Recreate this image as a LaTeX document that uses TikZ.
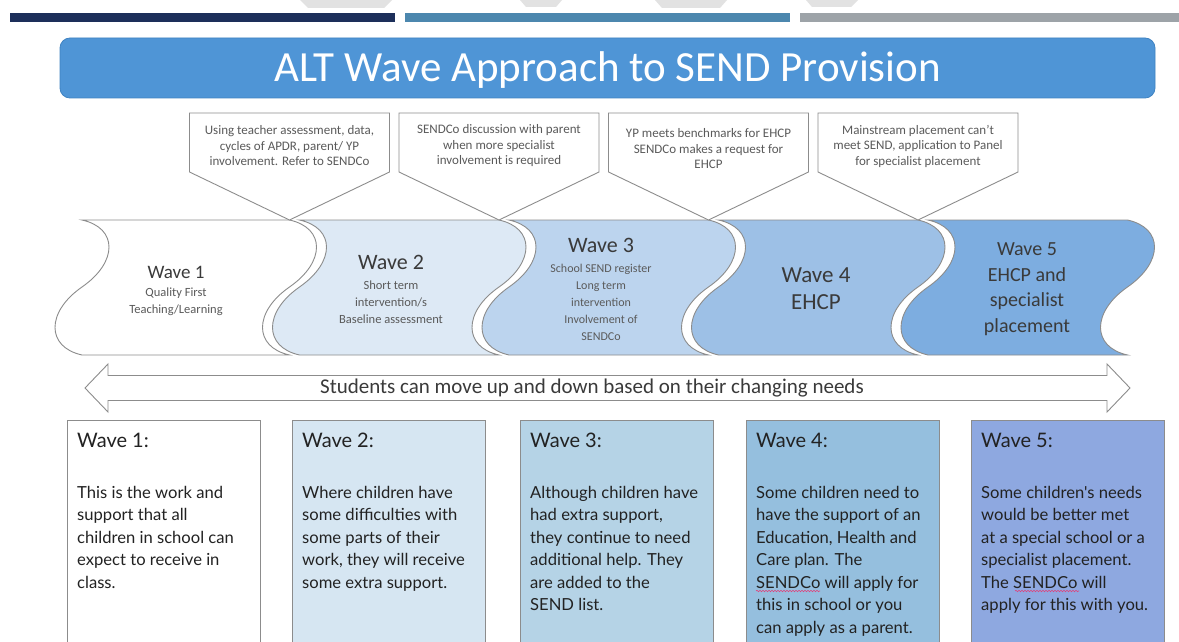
\documentclass[tikz,border=0pt]{standalone}
\usepackage{fontspec}
\setmainfont{Carlito}
\newfontfamily\boxfont{Lato}
\usetikzlibrary{decorations.pathmorphing}
\definecolor{navybar}{HTML}{1D2F5A}
\definecolor{bluebar}{HTML}{4C87AE}
\definecolor{graybar}{HTML}{9DA3A8}
\definecolor{titlefill}{HTML}{4F95D6}
\definecolor{titledraw}{HTML}{3F83C2}
\definecolor{outl}{HTML}{8C8C8C}
\definecolor{wtext}{HTML}{3A3A3A}
\definecolor{stext}{HTML}{5A5A5A}
\definecolor{wavetwo}{HTML}{DDE9F5}
\definecolor{wavethree}{HTML}{BCD4EE}
\definecolor{wavefour}{HTML}{9DC0E6}
\definecolor{wavefive}{HTML}{7DADE0}
\definecolor{boxtwo}{HTML}{D6E6F2}
\definecolor{boxthree}{HTML}{B5D3E6}
\definecolor{boxfour}{HTML}{95BFDE}
\definecolor{boxfive}{HTML}{8EA8E0}
\definecolor{boxtext}{HTML}{222222}
\definecolor{wmark}{HTML}{E2E2E2}
\definecolor{squig}{HTML}{E0407A}
\tikzset{
  wavebox/.style={draw=outl, line width=0.9pt},
  callout/.style={draw=outl, fill=white, line width=0.9pt},
  ctext/.style={font=\fontsize{13}{15.5}\selectfont, text=stext, align=center, inner sep=0pt},
  wtitle/.style={font=\fontsize{22}{25}\selectfont, text=wtext, align=center, inner sep=0pt},
  wsub/.style={font=\fontsize{12.5}{17}\selectfont, text=stext, align=center, inner sep=0pt},
  infobox/.style={draw=outl, line width=1.2pt, anchor=north west, minimum width=193pt, minimum height=240pt, inner sep=0pt},
  btitle/.style={font=\boxfont\fontsize{20}{24}\selectfont, text=boxtext, anchor=north west, inner sep=0pt},
  btext/.style={font=\boxfont\fontsize{16.6}{22.5}\selectfont, text=boxtext, anchor=north west, align=left, inner sep=0pt},
  squiggle/.style={draw=squig, line width=0.6pt, decorate, decoration={snake, segment length=3pt, amplitude=0.7pt}}
}
\begin{document}
\begin{tikzpicture}[x=1pt,y=-1pt]
\useasboundingbox (0,0) rectangle (1179,642);
\clip (0,0) rectangle (1179,642);
\fill[white] (0,0) rectangle (1179,642);
% faint watermark fragments
\fill[wmark] (300,0) -- (392,0) -- (384,8) -- (308,8) -- cycle;
\fill[wmark] (520,0) -- (562,0) -- (556,7) -- (526,7) -- cycle;
\fill[wmark] (655,0) -- (727,0) -- (720,8) -- (662,8) -- cycle;
\fill[wmark] (806,0) -- (858,0) -- (851,7) -- (812,7) -- cycle;
% top bars
\fill[navybar] (10,13) rectangle (395,22);
\fill[bluebar] (405,13) rectangle (790,22);
\fill[graybar] (800,13) rectangle (1179,22);
% title
\node[draw=titledraw, fill=titlefill, rounded corners=10pt, minimum width=1095pt, minimum height=60pt, inner sep=0pt, line width=0.8pt] (title) at (607.5,68) {};
\node[text=white, font=\fontsize{43}{48}\selectfont, inner sep=0pt] (titletxt) at (607.5,70) {ALT Wave Approach to SEND Provision};
% waves
\foreach \L/\R/\col in {82/289.5/white, 299.5/499/wavetwo, 509/708.5/wavethree, 718.5/918/wavefour, 928/1127.5/wavefive}{
  \draw[wavebox, fill=\col] (\L,220) -- (\R,220)
    .. controls ({\R+36},228) and ({\R+36},262) .. (\R,287)
    .. controls ({\R-36},312) and ({\R-36},347) .. (\R,355)
    -- (\L,355)
    .. controls ({\L-36},347) and ({\L-36},312) .. (\L,287)
    .. controls ({\L+36},262) and ({\L+36},228) .. (\L,220) -- cycle;
}
% callouts
\foreach \p/\n in {289.5/c1, 499/c2, 708.5/c3, 918/c4}{
  \draw[callout] ({\p-100},113) -- ({\p+100},113) -- ({\p+100},172) -- (\p,220) -- ({\p-100},172) -- cycle;
  \coordinate (\n) at (\p,146);
}
\node[ctext] (c1t) at (c1) {Using teacher assessment, data,\\cycles of APDR, parent/ YP\\involvement. Refer to SENDCo};
\node[ctext] (c2t) at (c2) {SENDCo discussion with parent\\when more specialist\\involvement is required};
\node[ctext] (c3t) at ([yshift=-3]c3) {YP meets benchmarks for EHCP\\SENDCo makes a request for\\EHCP};
\node[ctext] (c4t) at (c4) {Mainstream placement can't\\meet SEND, application to Panel\\for specialist placement};
% wave labels
\node[wtitle, font=\fontsize{19}{22}\selectfont] (w1) at (176,272) {Wave 1};
\node[wsub] (w1s) at (176,302) {Quality First\\Teaching/Learning};
\node[wtitle] (w2) at (391,262) {Wave 2};
\node[wsub] (w2s) at (391,302) {Short term\\intervention/s\\Baseline assessment};
\node[wtitle] (w3) at (601,245) {Wave 3};
\node[wsub, font=\fontsize{12}{17}\selectfont] (w3s) at (601,302) {School SEND register\\Long term\\intervention\\Involvement of\\SENDCo};
\node[wtitle, font=\fontsize{23}{27}\selectfont] (w4) at (816,289) {Wave 4\\EHCP};
\node[wtitle, font=\fontsize{20}{25.5}\selectfont] (w5) at (1027,289) {Wave 5\\EHCP and\\specialist\\placement};
% double arrow
\draw[draw=outl, fill=white, line width=0.9pt] (85,388) -- (108,364) -- (108,375.5) -- (1107,375.5) -- (1107,364) -- (1130,388) -- (1107,412) -- (1107,400.5) -- (108,400.5) -- (108,412) -- cycle;
\node[font=\fontsize{21}{24}\selectfont, text=wtext, inner sep=0pt] (arrowtxt) at (592,388) {Students can move up and down based on their changing needs};
% info boxes
\node[infobox, fill=white] (b1) at (67,420) {};
\node[infobox, fill=boxtwo] (b2) at (292,420) {};
\node[infobox, fill=boxthree] (b3) at (520,420) {};
\node[infobox, fill=boxfour] (b4) at (746,420) {};
\node[infobox, fill=boxfive] (b5) at (971,420) {};
\foreach \b/\t in {b1/Wave 1:, b2/Wave 2:, b3/Wave 3:, b4/Wave 4:, b5/Wave 5:}{
  \node[btitle] (\b t) at ([xshift=10,yshift=-13]\b.north west) {\t};
}
\node[btext] (b1x) at ([xshift=10,yshift=-66]b1.north west) {This is the work and\\support that all\\children in school can\\expect to receive in\\class.};
\node[btext] (b2x) at ([xshift=10,yshift=-66]b2.north west) {Where children have\\some difficulties with\\some parts of their\\work, they will receive\\some extra support.};
\node[btext] (b3x) at ([xshift=10,yshift=-66]b3.north west) {Although children have\\had extra support,\\they continue to need\\additional help. They\\are added to the\\SEND list.};
\node[btext] (b4x) at ([xshift=10,yshift=-66]b4.north west) {Some children need to\\have the support of an\\Education, Health and\\Care plan. The\\SENDCo will apply for\\this in school or you\\can apply as a parent.};
\node[btext] (b5x) at ([xshift=10,yshift=-66]b5.north west) {Some children's needs\\would be better met\\at a special school or a\\specialist placement.\\The SENDCo will\\apply for this with you.};
\coordinate (s4a) at ([yshift=-105]b4x.north west);
\coordinate (s4b) at ([xshift=64,yshift=-105]b4x.north west);
\draw[squiggle] (s4a) -- (s4b);
\coordinate (s5a) at ([xshift=34,yshift=-105]b5x.north west);
\coordinate (s5b) at ([xshift=98,yshift=-105]b5x.north west);
\draw[squiggle] (s5a) -- (s5b);
\end{tikzpicture}
\end{document}
